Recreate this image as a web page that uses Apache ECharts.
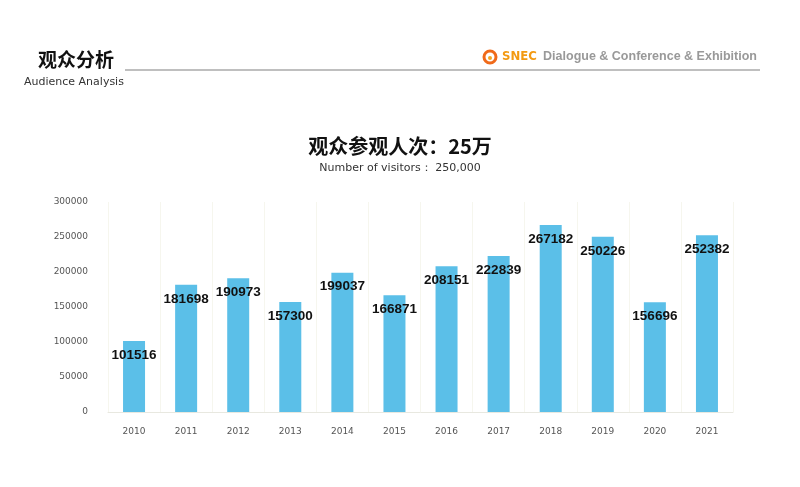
<!DOCTYPE html>
<html>
<head>
<meta charset="utf-8">
<script src="https://cdn.jsdelivr.net/npm/echarts@6/dist/echarts.min.js"></script>
<style>
  html, body { margin: 0; padding: 0; background: #fff; }
  #chart { width: 800px; height: 487px; }
</style>
</head>
<body>
<div id="chart"></div>
<script>
const years = ['2010', '2011', '2012', '2013', '2014', '2015', '2016', '2017', '2018', '2019', '2020', '2021']
const visitors = [101516, 181698, 190973, 157300, 199037, 166871, 208151, 222839, 267182, 250226, 156696, 252382]
const yTicks = [0, 50000, 100000, 150000, 200000, 250000, 300000]

const chart = echarts.init(document.getElementById('chart'))

chart.setOption({
  backgroundColor: '#fff',
  animation: false,
  title: [
    {
      text: '观众参观人次：25万',
      left: 'center',
      top: 131,
      textStyle: { fontSize: 20, fontWeight: 'bold', color: '#111', fontFamily: 'Noto Sans CJK SC' },
    },
    {
      text: 'Number of visitors： 250,000',
      left: 'center',
      top: 158,
      textStyle: { fontSize: 11, fontWeight: 'normal', color: '#333', fontFamily: 'DejaVu Sans' },
    },
  ],
  graphic: [
    {
      type: 'text', left: 38, top: 50,
      style: { text: '观众分析', fill: '#111', font: 'bold 19px "Noto Sans CJK SC"' },
    },
    {
      type: 'text', left: 24, top: 77,
      style: { text: 'Audience Analysis', fill: '#333', font: '11px "DejaVu Sans"' },
    },
    {
      type: 'line',
      shape: { x1: 125, y1: 70, x2: 760, y2: 70 },
      style: { stroke: '#aaa', lineWidth: 1.5 },
    },
    {
      type: 'circle',
      shape: { cx: 490, cy: 57, r: 6 },
      style: { fill: 'none', stroke: '#f06a1a', lineWidth: 3 },
    },
    {
      type: 'circle',
      shape: { cx: 490, cy: 58, r: 2 },
      style: { fill: '#f5a623' },
    },
    {
      type: 'text', left: 502, top: 50,
      style: { text: 'SNEC', fill: '#f39a12', font: 'bold 13px "DejaVu Sans Condensed"' },
    },
    {
      type: 'text', right: 43, top: 50,
      style: { text: 'Dialogue & Conference & Exhibition', fill: '#999', font: 'bold 12.5px "Liberation Sans"' },
    },
  ],
  grid: { left: 108, right: 67, top: 202, bottom: 75 },
  xAxis: {
    type: 'category',
    data: years,
    axisLine: { show: true, lineStyle: { color: '#e8e8e0' } },
    axisTick: { show: false },
    splitLine: { show: true, lineStyle: { color: '#f6f6ee' } },
    axisLabel: { color: '#555', fontSize: 9, margin: 15, fontFamily: 'DejaVu Sans' },
  },
  yAxis: {
    type: 'value',
    min: 0,
    max: 300000,
    interval: 50000,
    axisLine: { show: false },
    axisTick: { show: false },
    splitLine: { show: false },
    axisLabel: {
      color: '#555', fontSize: 9, margin: 20, fontFamily: 'DejaVu Sans',
      formatter: (v) => (yTicks.includes(v) ? String(v) : ''),
    },
  },
  series: [
    {
      type: 'bar',
      data: visitors,
      barWidth: 22,
      itemStyle: { color: '#5bbfe8' },
      label: {
        show: true,
        position: 'insideTop',
        distance: 7,
        color: '#111',
        fontSize: 13.5,
        fontWeight: 'bold',
        fontFamily: 'Liberation Sans',
      },
    },
  ],
})
</script>
</body>
</html>
